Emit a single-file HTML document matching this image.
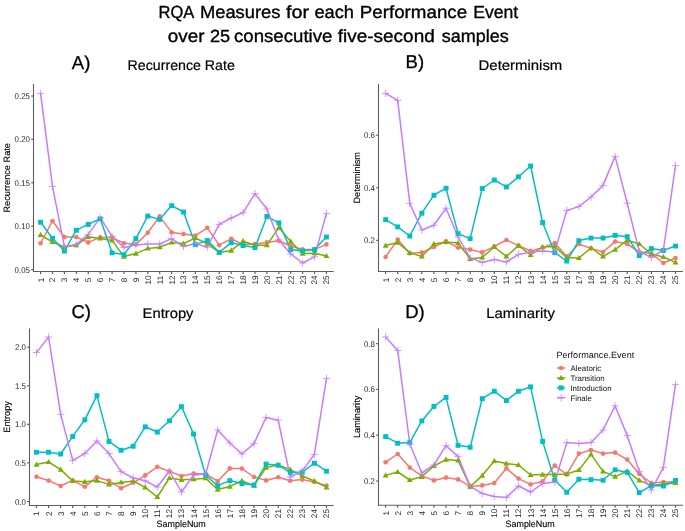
<!DOCTYPE html>
<html><head><meta charset="utf-8"><style>
html,body{margin:0;padding:0;background:#fff;}
svg{display:block;will-change:transform;text-rendering:geometricPrecision;font-family:"Liberation Sans",sans-serif;}
.tk{font-size:8.2px;fill:#2a2a2a;}
.tky{font-size:8.4px;fill:#2a2a2a;}
.at{font-size:9.2px;fill:#000;stroke:#000;stroke-width:0.12px;}
.lt{font-size:9.1px;fill:#111;}
.ll{font-size:7.9px;fill:#111;}
.t1{font-size:17.6px;fill:#000;stroke:#000;stroke-width:0.35px;}
.t2{font-size:17.6px;fill:#111;}
.pl{font-size:18.5px;fill:#000;stroke:#000;stroke-width:0.3px;}
.st{font-size:14px;fill:#000;stroke:#000;stroke-width:0.2px;}
</style></head><body>
<svg width="685" height="531" viewBox="0 0 685 531">
<rect width="685" height="531" fill="#fff"/>

<text x="158.50" y="17.8" class="t1" textLength="35.80" lengthAdjust="spacingAndGlyphs">RQA</text>
<text x="199.90" y="17.8" class="t1" textLength="80.60" lengthAdjust="spacingAndGlyphs">Measures</text>
<text x="285.90" y="17.8" class="t1" textLength="23.10" lengthAdjust="spacingAndGlyphs">for</text>
<text x="314.40" y="17.8" class="t1" textLength="39.60" lengthAdjust="spacingAndGlyphs">each</text>
<text x="359.80" y="17.8" class="t1" textLength="107.30" lengthAdjust="spacingAndGlyphs">Performance</text>
<text x="473.20" y="17.8" class="t1" textLength="45.00" lengthAdjust="spacingAndGlyphs">Event</text>
<text x="167.80" y="42.1" class="t1" textLength="36.70" lengthAdjust="spacingAndGlyphs">over</text>
<text x="209.90" y="42.1" class="t1" textLength="20.20" lengthAdjust="spacingAndGlyphs">25</text>
<text x="234.00" y="42.1" class="t1" textLength="98.40" lengthAdjust="spacingAndGlyphs">consecutive</text>
<text x="337.70" y="42.1" class="t1" textLength="97.10" lengthAdjust="spacingAndGlyphs">five-second</text>
<text x="441.80" y="42.1" class="t1" textLength="66.90" lengthAdjust="spacingAndGlyphs">samples</text>
<text x="71.8" y="69.2" class="pl">A)</text>
<text x="405.6" y="68.2" class="pl">B)</text>
<text x="71.4" y="318" class="pl">C)</text>
<text x="405.2" y="318" class="pl">D)</text>
<text x="127.6" y="70" class="st" textLength="107.2" lengthAdjust="spacingAndGlyphs">Recurrence Rate</text>
<text x="478.6" y="69.6" class="st" textLength="83.7" lengthAdjust="spacingAndGlyphs">Determinism</text>
<text x="142.6" y="318" class="st" textLength="50.9" lengthAdjust="spacingAndGlyphs">Entropy</text>
<text x="486.2" y="317.6" class="st" textLength="68.7" lengthAdjust="spacingAndGlyphs">Laminarity</text>

<path d="M33.5 84V272.1M32.9 271.5H333.6" stroke="#5e5e5e" stroke-width="1.1" fill="none"/>
<path d="M31.2 269.6H33.5" stroke="#5e5e5e" stroke-width="1.2"/>
<text transform="translate(29.9 272.6) scale(0.94 1)" text-anchor="end" class="tky">0.05</text>
<path d="M31.2 226.2H33.5" stroke="#5e5e5e" stroke-width="1.2"/>
<text transform="translate(29.9 229.2) scale(0.94 1)" text-anchor="end" class="tky">0.10</text>
<path d="M31.2 182.8H33.5" stroke="#5e5e5e" stroke-width="1.2"/>
<text transform="translate(29.9 185.8) scale(0.94 1)" text-anchor="end" class="tky">0.15</text>
<path d="M31.2 139.4H33.5" stroke="#5e5e5e" stroke-width="1.2"/>
<text transform="translate(29.9 142.4) scale(0.94 1)" text-anchor="end" class="tky">0.20</text>
<path d="M31.2 96H33.5" stroke="#5e5e5e" stroke-width="1.2"/>
<text transform="translate(29.9 99) scale(0.94 1)" text-anchor="end" class="tky">0.25</text>
<path d="M40.6 271.5V273.9" stroke="#5e5e5e" stroke-width="1.2"/>
<text transform="translate(43.5 280) rotate(-90)" text-anchor="middle" class="tk">1</text>
<path d="M52.5 271.5V273.9" stroke="#5e5e5e" stroke-width="1.2"/>
<text transform="translate(55.4 280) rotate(-90)" text-anchor="middle" class="tk">2</text>
<path d="M64.4 271.5V273.9" stroke="#5e5e5e" stroke-width="1.2"/>
<text transform="translate(67.3 280) rotate(-90)" text-anchor="middle" class="tk">3</text>
<path d="M76.3 271.5V273.9" stroke="#5e5e5e" stroke-width="1.2"/>
<text transform="translate(79.2 280) rotate(-90)" text-anchor="middle" class="tk">4</text>
<path d="M88.2 271.5V273.9" stroke="#5e5e5e" stroke-width="1.2"/>
<text transform="translate(91.1 280) rotate(-90)" text-anchor="middle" class="tk">5</text>
<path d="M100.2 271.5V273.9" stroke="#5e5e5e" stroke-width="1.2"/>
<text transform="translate(103.1 280) rotate(-90)" text-anchor="middle" class="tk">6</text>
<path d="M112.1 271.5V273.9" stroke="#5e5e5e" stroke-width="1.2"/>
<text transform="translate(115 280) rotate(-90)" text-anchor="middle" class="tk">7</text>
<path d="M124 271.5V273.9" stroke="#5e5e5e" stroke-width="1.2"/>
<text transform="translate(126.9 280) rotate(-90)" text-anchor="middle" class="tk">8</text>
<path d="M135.9 271.5V273.9" stroke="#5e5e5e" stroke-width="1.2"/>
<text transform="translate(138.8 280) rotate(-90)" text-anchor="middle" class="tk">9</text>
<path d="M147.8 271.5V273.9" stroke="#5e5e5e" stroke-width="1.2"/>
<text transform="translate(150.7 280) rotate(-90)" text-anchor="middle" class="tk">10</text>
<path d="M159.7 271.5V273.9" stroke="#5e5e5e" stroke-width="1.2"/>
<text transform="translate(162.6 280) rotate(-90)" text-anchor="middle" class="tk">11</text>
<path d="M171.6 271.5V273.9" stroke="#5e5e5e" stroke-width="1.2"/>
<text transform="translate(174.5 280) rotate(-90)" text-anchor="middle" class="tk">12</text>
<path d="M183.5 271.5V273.9" stroke="#5e5e5e" stroke-width="1.2"/>
<text transform="translate(186.4 280) rotate(-90)" text-anchor="middle" class="tk">13</text>
<path d="M195.4 271.5V273.9" stroke="#5e5e5e" stroke-width="1.2"/>
<text transform="translate(198.3 280) rotate(-90)" text-anchor="middle" class="tk">14</text>
<path d="M207.3 271.5V273.9" stroke="#5e5e5e" stroke-width="1.2"/>
<text transform="translate(210.2 280) rotate(-90)" text-anchor="middle" class="tk">15</text>
<path d="M219.2 271.5V273.9" stroke="#5e5e5e" stroke-width="1.2"/>
<text transform="translate(222.2 280) rotate(-90)" text-anchor="middle" class="tk">16</text>
<path d="M231.2 271.5V273.9" stroke="#5e5e5e" stroke-width="1.2"/>
<text transform="translate(234.1 280) rotate(-90)" text-anchor="middle" class="tk">17</text>
<path d="M243.1 271.5V273.9" stroke="#5e5e5e" stroke-width="1.2"/>
<text transform="translate(246 280) rotate(-90)" text-anchor="middle" class="tk">18</text>
<path d="M255 271.5V273.9" stroke="#5e5e5e" stroke-width="1.2"/>
<text transform="translate(257.9 280) rotate(-90)" text-anchor="middle" class="tk">19</text>
<path d="M266.9 271.5V273.9" stroke="#5e5e5e" stroke-width="1.2"/>
<text transform="translate(269.8 280) rotate(-90)" text-anchor="middle" class="tk">20</text>
<path d="M278.8 271.5V273.9" stroke="#5e5e5e" stroke-width="1.2"/>
<text transform="translate(281.7 280) rotate(-90)" text-anchor="middle" class="tk">21</text>
<path d="M290.7 271.5V273.9" stroke="#5e5e5e" stroke-width="1.2"/>
<text transform="translate(293.6 280) rotate(-90)" text-anchor="middle" class="tk">22</text>
<path d="M302.6 271.5V273.9" stroke="#5e5e5e" stroke-width="1.2"/>
<text transform="translate(305.5 280) rotate(-90)" text-anchor="middle" class="tk">23</text>
<path d="M314.5 271.5V273.9" stroke="#5e5e5e" stroke-width="1.2"/>
<text transform="translate(317.4 280) rotate(-90)" text-anchor="middle" class="tk">24</text>
<path d="M326.4 271.5V273.9" stroke="#5e5e5e" stroke-width="1.2"/>
<text transform="translate(329.3 280) rotate(-90)" text-anchor="middle" class="tk">25</text>
<text transform="translate(10.4 177.8) rotate(-90)" text-anchor="middle" class="at">Recurrence Rate</text>
<polyline points="40.6,243.2 52.5,221 64.4,237 76.3,237 88.2,242.4 100.2,237.4 112.1,237.6 124,243.2 135.9,244.4 147.8,232.8 159.7,216.4 171.6,232.4 183.5,234 195.4,235.6 207.3,227.8 219.2,245.2 231.2,238.8 243.1,244.4 255,244 266.9,242.4 278.8,240.8 290.7,246 302.6,249.4 314.5,249.6 326.4,244.4" fill="none" stroke="#F8766D" stroke-width="1.5" stroke-linejoin="round"/>
<polyline points="40.6,234.8 52.5,242 64.4,247 76.3,245.2 88.2,236.8 100.2,238.4 112.1,240.4 124,256.6 135.9,253.6 147.8,248.4 159.7,247.2 171.6,242.4 183.5,243.6 195.4,238 207.3,243.6 219.2,252.4 231.2,250.6 243.1,241.2 255,245.2 266.9,245.2 278.8,227.6 290.7,241.6 302.6,253.6 314.5,253.2 326.4,256" fill="none" stroke="#7CAE00" stroke-width="1.5" stroke-linejoin="round"/>
<polyline points="40.6,222.2 52.5,238.2 64.4,251 76.3,230.2 88.2,224.4 100.2,218.8 112.1,252.8 124,254.6 135.9,238.6 147.8,216 159.7,219.4 171.6,205.6 183.5,212 195.4,244.6 207.3,240.4 219.2,252.4 231.2,242.6 243.1,245.6 255,247.6 266.9,216.4 278.8,222.8 290.7,249.6 302.6,251 314.5,249.6 326.4,237" fill="none" stroke="#00BFC4" stroke-width="1.5" stroke-linejoin="round"/>
<polyline points="40.6,93.4 52.5,186.4 64.4,246.6 76.3,244.4 88.2,234.4 100.2,217.6 112.1,236.4 124,247.6 135.9,245 147.8,244 159.7,244 171.6,238.6 183.5,246.6 195.4,243.6 207.3,247.2 219.2,224.4 231.2,218 243.1,212.6 255,193.6 266.9,209 278.8,240 290.7,254 302.6,263 314.5,256.8 326.4,213.6" fill="none" stroke="#C77CFF" stroke-width="1.5" stroke-linejoin="round"/>
<circle cx="40.6" cy="243.2" r="2.3" fill="#F8766D"/>
<circle cx="52.5" cy="221" r="2.3" fill="#F8766D"/>
<circle cx="64.4" cy="237" r="2.3" fill="#F8766D"/>
<circle cx="76.3" cy="237" r="2.3" fill="#F8766D"/>
<circle cx="88.2" cy="242.4" r="2.3" fill="#F8766D"/>
<circle cx="100.2" cy="237.4" r="2.3" fill="#F8766D"/>
<circle cx="112.1" cy="237.6" r="2.3" fill="#F8766D"/>
<circle cx="124" cy="243.2" r="2.3" fill="#F8766D"/>
<circle cx="135.9" cy="244.4" r="2.3" fill="#F8766D"/>
<circle cx="147.8" cy="232.8" r="2.3" fill="#F8766D"/>
<circle cx="159.7" cy="216.4" r="2.3" fill="#F8766D"/>
<circle cx="171.6" cy="232.4" r="2.3" fill="#F8766D"/>
<circle cx="183.5" cy="234" r="2.3" fill="#F8766D"/>
<circle cx="195.4" cy="235.6" r="2.3" fill="#F8766D"/>
<circle cx="207.3" cy="227.8" r="2.3" fill="#F8766D"/>
<circle cx="219.2" cy="245.2" r="2.3" fill="#F8766D"/>
<circle cx="231.2" cy="238.8" r="2.3" fill="#F8766D"/>
<circle cx="243.1" cy="244.4" r="2.3" fill="#F8766D"/>
<circle cx="255" cy="244" r="2.3" fill="#F8766D"/>
<circle cx="266.9" cy="242.4" r="2.3" fill="#F8766D"/>
<circle cx="278.8" cy="240.8" r="2.3" fill="#F8766D"/>
<circle cx="290.7" cy="246" r="2.3" fill="#F8766D"/>
<circle cx="302.6" cy="249.4" r="2.3" fill="#F8766D"/>
<circle cx="314.5" cy="249.6" r="2.3" fill="#F8766D"/>
<circle cx="326.4" cy="244.4" r="2.3" fill="#F8766D"/>
<path d="M40.6 231.7L43.6 236.9L37.6 236.9Z" fill="#7CAE00"/>
<path d="M52.5 238.9L55.5 244.1L49.5 244.1Z" fill="#7CAE00"/>
<path d="M64.4 243.9L67.4 249.1L61.4 249.1Z" fill="#7CAE00"/>
<path d="M76.3 242.1L79.3 247.3L73.3 247.3Z" fill="#7CAE00"/>
<path d="M88.2 233.7L91.2 238.9L85.2 238.9Z" fill="#7CAE00"/>
<path d="M100.2 235.3L103.2 240.5L97.2 240.5Z" fill="#7CAE00"/>
<path d="M112.1 237.3L115.1 242.5L109.1 242.5Z" fill="#7CAE00"/>
<path d="M124 253.5L127 258.7L121 258.7Z" fill="#7CAE00"/>
<path d="M135.9 250.5L138.9 255.7L132.9 255.7Z" fill="#7CAE00"/>
<path d="M147.8 245.3L150.8 250.5L144.8 250.5Z" fill="#7CAE00"/>
<path d="M159.7 244.1L162.7 249.3L156.7 249.3Z" fill="#7CAE00"/>
<path d="M171.6 239.3L174.6 244.5L168.6 244.5Z" fill="#7CAE00"/>
<path d="M183.5 240.5L186.5 245.7L180.5 245.7Z" fill="#7CAE00"/>
<path d="M195.4 234.9L198.4 240.1L192.4 240.1Z" fill="#7CAE00"/>
<path d="M207.3 240.5L210.3 245.7L204.3 245.7Z" fill="#7CAE00"/>
<path d="M219.2 249.3L222.2 254.5L216.2 254.5Z" fill="#7CAE00"/>
<path d="M231.2 247.5L234.2 252.7L228.2 252.7Z" fill="#7CAE00"/>
<path d="M243.1 238.1L246.1 243.3L240.1 243.3Z" fill="#7CAE00"/>
<path d="M255 242.1L258 247.3L252 247.3Z" fill="#7CAE00"/>
<path d="M266.9 242.1L269.9 247.3L263.9 247.3Z" fill="#7CAE00"/>
<path d="M278.8 224.5L281.8 229.7L275.8 229.7Z" fill="#7CAE00"/>
<path d="M290.7 238.5L293.7 243.7L287.7 243.7Z" fill="#7CAE00"/>
<path d="M302.6 250.5L305.6 255.7L299.6 255.7Z" fill="#7CAE00"/>
<path d="M314.5 250.1L317.5 255.3L311.5 255.3Z" fill="#7CAE00"/>
<path d="M326.4 252.9L329.4 258.1L323.4 258.1Z" fill="#7CAE00"/>
<rect x="38.1" y="219.8" width="4.9" height="4.9" fill="#00BFC4"/>
<rect x="50.1" y="235.8" width="4.9" height="4.9" fill="#00BFC4"/>
<rect x="62" y="248.6" width="4.9" height="4.9" fill="#00BFC4"/>
<rect x="73.9" y="227.8" width="4.9" height="4.9" fill="#00BFC4"/>
<rect x="85.8" y="222" width="4.9" height="4.9" fill="#00BFC4"/>
<rect x="97.7" y="216.4" width="4.9" height="4.9" fill="#00BFC4"/>
<rect x="109.6" y="250.4" width="4.9" height="4.9" fill="#00BFC4"/>
<rect x="121.5" y="252.2" width="4.9" height="4.9" fill="#00BFC4"/>
<rect x="133.4" y="236.2" width="4.9" height="4.9" fill="#00BFC4"/>
<rect x="145.3" y="213.6" width="4.9" height="4.9" fill="#00BFC4"/>
<rect x="157.2" y="217" width="4.9" height="4.9" fill="#00BFC4"/>
<rect x="169.2" y="203.2" width="4.9" height="4.9" fill="#00BFC4"/>
<rect x="181.1" y="209.6" width="4.9" height="4.9" fill="#00BFC4"/>
<rect x="193" y="242.2" width="4.9" height="4.9" fill="#00BFC4"/>
<rect x="204.9" y="238" width="4.9" height="4.9" fill="#00BFC4"/>
<rect x="216.8" y="250" width="4.9" height="4.9" fill="#00BFC4"/>
<rect x="228.7" y="240.2" width="4.9" height="4.9" fill="#00BFC4"/>
<rect x="240.6" y="243.2" width="4.9" height="4.9" fill="#00BFC4"/>
<rect x="252.5" y="245.2" width="4.9" height="4.9" fill="#00BFC4"/>
<rect x="264.4" y="214" width="4.9" height="4.9" fill="#00BFC4"/>
<rect x="276.4" y="220.4" width="4.9" height="4.9" fill="#00BFC4"/>
<rect x="288.3" y="247.2" width="4.9" height="4.9" fill="#00BFC4"/>
<rect x="300.2" y="248.6" width="4.9" height="4.9" fill="#00BFC4"/>
<rect x="312.1" y="247.2" width="4.9" height="4.9" fill="#00BFC4"/>
<rect x="324" y="234.6" width="4.9" height="4.9" fill="#00BFC4"/>
<path d="M37 93.4H44.2M40.6 89.8V97" stroke="#C77CFF" stroke-width="0.85" fill="none" opacity="0.9"/>
<path d="M48.9 186.4H56.1M52.5 182.8V190" stroke="#C77CFF" stroke-width="0.85" fill="none" opacity="0.9"/>
<path d="M60.8 246.6H68M64.4 243V250.2" stroke="#C77CFF" stroke-width="0.85" fill="none" opacity="0.9"/>
<path d="M72.7 244.4H79.9M76.3 240.8V248" stroke="#C77CFF" stroke-width="0.85" fill="none" opacity="0.9"/>
<path d="M84.6 234.4H91.8M88.2 230.8V238" stroke="#C77CFF" stroke-width="0.85" fill="none" opacity="0.9"/>
<path d="M96.6 217.6H103.8M100.2 214V221.2" stroke="#C77CFF" stroke-width="0.85" fill="none" opacity="0.9"/>
<path d="M108.5 236.4H115.7M112.1 232.8V240" stroke="#C77CFF" stroke-width="0.85" fill="none" opacity="0.9"/>
<path d="M120.4 247.6H127.6M124 244V251.2" stroke="#C77CFF" stroke-width="0.85" fill="none" opacity="0.9"/>
<path d="M132.3 245H139.5M135.9 241.4V248.6" stroke="#C77CFF" stroke-width="0.85" fill="none" opacity="0.9"/>
<path d="M144.2 244H151.4M147.8 240.4V247.6" stroke="#C77CFF" stroke-width="0.85" fill="none" opacity="0.9"/>
<path d="M156.1 244H163.3M159.7 240.4V247.6" stroke="#C77CFF" stroke-width="0.85" fill="none" opacity="0.9"/>
<path d="M168 238.6H175.2M171.6 235V242.2" stroke="#C77CFF" stroke-width="0.85" fill="none" opacity="0.9"/>
<path d="M179.9 246.6H187.1M183.5 243V250.2" stroke="#C77CFF" stroke-width="0.85" fill="none" opacity="0.9"/>
<path d="M191.8 243.6H199M195.4 240V247.2" stroke="#C77CFF" stroke-width="0.85" fill="none" opacity="0.9"/>
<path d="M203.7 247.2H210.9M207.3 243.6V250.8" stroke="#C77CFF" stroke-width="0.85" fill="none" opacity="0.9"/>
<path d="M215.7 224.4H222.8M219.2 220.8V228" stroke="#C77CFF" stroke-width="0.85" fill="none" opacity="0.9"/>
<path d="M227.6 218H234.8M231.2 214.4V221.6" stroke="#C77CFF" stroke-width="0.85" fill="none" opacity="0.9"/>
<path d="M239.5 212.6H246.7M243.1 209V216.2" stroke="#C77CFF" stroke-width="0.85" fill="none" opacity="0.9"/>
<path d="M251.4 193.6H258.6M255 190V197.2" stroke="#C77CFF" stroke-width="0.85" fill="none" opacity="0.9"/>
<path d="M263.3 209H270.5M266.9 205.4V212.6" stroke="#C77CFF" stroke-width="0.85" fill="none" opacity="0.9"/>
<path d="M275.2 240H282.4M278.8 236.4V243.6" stroke="#C77CFF" stroke-width="0.85" fill="none" opacity="0.9"/>
<path d="M287.1 254H294.3M290.7 250.4V257.6" stroke="#C77CFF" stroke-width="0.85" fill="none" opacity="0.9"/>
<path d="M299 263H306.2M302.6 259.4V266.6" stroke="#C77CFF" stroke-width="0.85" fill="none" opacity="0.9"/>
<path d="M310.9 256.8H318.1M314.5 253.2V260.4" stroke="#C77CFF" stroke-width="0.85" fill="none" opacity="0.9"/>
<path d="M322.8 213.6H330M326.4 210V217.2" stroke="#C77CFF" stroke-width="0.85" fill="none" opacity="0.9"/>
<path d="M378.5 84V272.1M377.9 271.5H683" stroke="#5e5e5e" stroke-width="1.1" fill="none"/>
<path d="M376.2 240.4H378.5" stroke="#5e5e5e" stroke-width="1.2"/>
<text transform="translate(374.9 243.4) scale(0.94 1)" text-anchor="end" class="tky">0.2</text>
<path d="M376.2 187.8H378.5" stroke="#5e5e5e" stroke-width="1.2"/>
<text transform="translate(374.9 190.8) scale(0.94 1)" text-anchor="end" class="tky">0.4</text>
<path d="M376.2 135.2H378.5" stroke="#5e5e5e" stroke-width="1.2"/>
<text transform="translate(374.9 138.2) scale(0.94 1)" text-anchor="end" class="tky">0.6</text>
<path d="M385.6 271.5V273.9" stroke="#5e5e5e" stroke-width="1.2"/>
<text transform="translate(388.5 280) rotate(-90)" text-anchor="middle" class="tk">1</text>
<path d="M397.7 271.5V273.9" stroke="#5e5e5e" stroke-width="1.2"/>
<text transform="translate(400.6 280) rotate(-90)" text-anchor="middle" class="tk">2</text>
<path d="M409.8 271.5V273.9" stroke="#5e5e5e" stroke-width="1.2"/>
<text transform="translate(412.7 280) rotate(-90)" text-anchor="middle" class="tk">3</text>
<path d="M421.8 271.5V273.9" stroke="#5e5e5e" stroke-width="1.2"/>
<text transform="translate(424.7 280) rotate(-90)" text-anchor="middle" class="tk">4</text>
<path d="M433.9 271.5V273.9" stroke="#5e5e5e" stroke-width="1.2"/>
<text transform="translate(436.8 280) rotate(-90)" text-anchor="middle" class="tk">5</text>
<path d="M446 271.5V273.9" stroke="#5e5e5e" stroke-width="1.2"/>
<text transform="translate(448.9 280) rotate(-90)" text-anchor="middle" class="tk">6</text>
<path d="M458.1 271.5V273.9" stroke="#5e5e5e" stroke-width="1.2"/>
<text transform="translate(461 280) rotate(-90)" text-anchor="middle" class="tk">7</text>
<path d="M470.2 271.5V273.9" stroke="#5e5e5e" stroke-width="1.2"/>
<text transform="translate(473.1 280) rotate(-90)" text-anchor="middle" class="tk">8</text>
<path d="M482.2 271.5V273.9" stroke="#5e5e5e" stroke-width="1.2"/>
<text transform="translate(485.1 280) rotate(-90)" text-anchor="middle" class="tk">9</text>
<path d="M494.3 271.5V273.9" stroke="#5e5e5e" stroke-width="1.2"/>
<text transform="translate(497.2 280) rotate(-90)" text-anchor="middle" class="tk">10</text>
<path d="M506.4 271.5V273.9" stroke="#5e5e5e" stroke-width="1.2"/>
<text transform="translate(509.3 280) rotate(-90)" text-anchor="middle" class="tk">11</text>
<path d="M518.5 271.5V273.9" stroke="#5e5e5e" stroke-width="1.2"/>
<text transform="translate(521.4 280) rotate(-90)" text-anchor="middle" class="tk">12</text>
<path d="M530.6 271.5V273.9" stroke="#5e5e5e" stroke-width="1.2"/>
<text transform="translate(533.5 280) rotate(-90)" text-anchor="middle" class="tk">13</text>
<path d="M542.6 271.5V273.9" stroke="#5e5e5e" stroke-width="1.2"/>
<text transform="translate(545.5 280) rotate(-90)" text-anchor="middle" class="tk">14</text>
<path d="M554.7 271.5V273.9" stroke="#5e5e5e" stroke-width="1.2"/>
<text transform="translate(557.6 280) rotate(-90)" text-anchor="middle" class="tk">15</text>
<path d="M566.8 271.5V273.9" stroke="#5e5e5e" stroke-width="1.2"/>
<text transform="translate(569.7 280) rotate(-90)" text-anchor="middle" class="tk">16</text>
<path d="M578.9 271.5V273.9" stroke="#5e5e5e" stroke-width="1.2"/>
<text transform="translate(581.8 280) rotate(-90)" text-anchor="middle" class="tk">17</text>
<path d="M591 271.5V273.9" stroke="#5e5e5e" stroke-width="1.2"/>
<text transform="translate(593.9 280) rotate(-90)" text-anchor="middle" class="tk">18</text>
<path d="M603 271.5V273.9" stroke="#5e5e5e" stroke-width="1.2"/>
<text transform="translate(605.9 280) rotate(-90)" text-anchor="middle" class="tk">19</text>
<path d="M615.1 271.5V273.9" stroke="#5e5e5e" stroke-width="1.2"/>
<text transform="translate(618 280) rotate(-90)" text-anchor="middle" class="tk">20</text>
<path d="M627.2 271.5V273.9" stroke="#5e5e5e" stroke-width="1.2"/>
<text transform="translate(630.1 280) rotate(-90)" text-anchor="middle" class="tk">21</text>
<path d="M639.3 271.5V273.9" stroke="#5e5e5e" stroke-width="1.2"/>
<text transform="translate(642.2 280) rotate(-90)" text-anchor="middle" class="tk">22</text>
<path d="M651.4 271.5V273.9" stroke="#5e5e5e" stroke-width="1.2"/>
<text transform="translate(654.3 280) rotate(-90)" text-anchor="middle" class="tk">23</text>
<path d="M663.4 271.5V273.9" stroke="#5e5e5e" stroke-width="1.2"/>
<text transform="translate(666.3 280) rotate(-90)" text-anchor="middle" class="tk">24</text>
<path d="M675.5 271.5V273.9" stroke="#5e5e5e" stroke-width="1.2"/>
<text transform="translate(678.4 280) rotate(-90)" text-anchor="middle" class="tk">25</text>
<text transform="translate(359.7 177.8) rotate(-90)" text-anchor="middle" class="at">Determinism</text>
<polyline points="385.6,257 397.7,239.6 409.8,253.2 421.8,252.6 433.9,247 446,241.4 458.1,247.6 470.2,249.6 482.2,252.4 494.3,246.4 506.4,240 518.5,245.6 530.6,251 542.6,247.6 554.7,243 566.8,256.4 578.9,244 591,248.4 603,252 615.1,241.6 627.2,244 639.3,252 651.4,253.6 663.4,263 675.5,258" fill="none" stroke="#F8766D" stroke-width="1.5" stroke-linejoin="round"/>
<polyline points="385.6,245.6 397.7,242.6 409.8,252.8 421.8,256.4 433.9,244 446,242 458.1,243 470.2,259 482.2,257.4 494.3,247 506.4,256.4 518.5,245.6 530.6,255 542.6,247 554.7,246.4 566.8,257.6 578.9,258 591,248 603,256.4 615.1,249.6 627.2,240.2 639.3,244 651.4,254 663.4,257 675.5,262.4" fill="none" stroke="#7CAE00" stroke-width="1.5" stroke-linejoin="round"/>
<polyline points="385.6,219.6 397.7,226.8 409.8,236 421.8,213.2 433.9,195.2 446,188.2 458.1,233.6 470.2,238.6 482.2,188.5 494.3,180 506.4,186.9 518.5,176.8 530.6,166 542.6,222.5 554.7,252.6 566.8,261 578.9,240.6 591,238 603,238 615.1,235.4 627.2,236.6 639.3,255.6 651.4,248.6 663.4,250.4 675.5,246" fill="none" stroke="#00BFC4" stroke-width="1.5" stroke-linejoin="round"/>
<polyline points="385.6,93.4 397.7,100.4 409.8,203.6 421.8,230 433.9,225.2 446,208.2 458.1,237 470.2,258 482.2,262.4 494.3,259.6 506.4,262 518.5,254.4 530.6,252 542.6,251 554.7,252 566.8,210.4 578.9,206.6 591,197 603,185.4 615.1,156.4 627.2,203.2 639.3,251.6 651.4,257.4 663.4,250 675.5,165.6" fill="none" stroke="#C77CFF" stroke-width="1.5" stroke-linejoin="round"/>
<circle cx="385.6" cy="257" r="2.3" fill="#F8766D"/>
<circle cx="397.7" cy="239.6" r="2.3" fill="#F8766D"/>
<circle cx="409.8" cy="253.2" r="2.3" fill="#F8766D"/>
<circle cx="421.8" cy="252.6" r="2.3" fill="#F8766D"/>
<circle cx="433.9" cy="247" r="2.3" fill="#F8766D"/>
<circle cx="446" cy="241.4" r="2.3" fill="#F8766D"/>
<circle cx="458.1" cy="247.6" r="2.3" fill="#F8766D"/>
<circle cx="470.2" cy="249.6" r="2.3" fill="#F8766D"/>
<circle cx="482.2" cy="252.4" r="2.3" fill="#F8766D"/>
<circle cx="494.3" cy="246.4" r="2.3" fill="#F8766D"/>
<circle cx="506.4" cy="240" r="2.3" fill="#F8766D"/>
<circle cx="518.5" cy="245.6" r="2.3" fill="#F8766D"/>
<circle cx="530.6" cy="251" r="2.3" fill="#F8766D"/>
<circle cx="542.6" cy="247.6" r="2.3" fill="#F8766D"/>
<circle cx="554.7" cy="243" r="2.3" fill="#F8766D"/>
<circle cx="566.8" cy="256.4" r="2.3" fill="#F8766D"/>
<circle cx="578.9" cy="244" r="2.3" fill="#F8766D"/>
<circle cx="591" cy="248.4" r="2.3" fill="#F8766D"/>
<circle cx="603" cy="252" r="2.3" fill="#F8766D"/>
<circle cx="615.1" cy="241.6" r="2.3" fill="#F8766D"/>
<circle cx="627.2" cy="244" r="2.3" fill="#F8766D"/>
<circle cx="639.3" cy="252" r="2.3" fill="#F8766D"/>
<circle cx="651.4" cy="253.6" r="2.3" fill="#F8766D"/>
<circle cx="663.4" cy="263" r="2.3" fill="#F8766D"/>
<circle cx="675.5" cy="258" r="2.3" fill="#F8766D"/>
<path d="M385.6 242.5L388.6 247.7L382.6 247.7Z" fill="#7CAE00"/>
<path d="M397.7 239.5L400.7 244.7L394.7 244.7Z" fill="#7CAE00"/>
<path d="M409.8 249.7L412.8 254.9L406.8 254.9Z" fill="#7CAE00"/>
<path d="M421.8 253.3L424.8 258.5L418.8 258.5Z" fill="#7CAE00"/>
<path d="M433.9 240.9L436.9 246.1L430.9 246.1Z" fill="#7CAE00"/>
<path d="M446 238.9L449 244.1L443 244.1Z" fill="#7CAE00"/>
<path d="M458.1 239.9L461.1 245.1L455.1 245.1Z" fill="#7CAE00"/>
<path d="M470.2 255.9L473.2 261.1L467.2 261.1Z" fill="#7CAE00"/>
<path d="M482.2 254.3L485.2 259.5L479.2 259.5Z" fill="#7CAE00"/>
<path d="M494.3 243.9L497.3 249.1L491.3 249.1Z" fill="#7CAE00"/>
<path d="M506.4 253.3L509.4 258.5L503.4 258.5Z" fill="#7CAE00"/>
<path d="M518.5 242.5L521.5 247.7L515.5 247.7Z" fill="#7CAE00"/>
<path d="M530.6 251.9L533.6 257.1L527.6 257.1Z" fill="#7CAE00"/>
<path d="M542.6 243.9L545.6 249.1L539.6 249.1Z" fill="#7CAE00"/>
<path d="M554.7 243.3L557.7 248.5L551.7 248.5Z" fill="#7CAE00"/>
<path d="M566.8 254.5L569.8 259.7L563.8 259.7Z" fill="#7CAE00"/>
<path d="M578.9 254.9L581.9 260.1L575.9 260.1Z" fill="#7CAE00"/>
<path d="M591 244.9L594 250.1L588 250.1Z" fill="#7CAE00"/>
<path d="M603 253.3L606 258.5L600 258.5Z" fill="#7CAE00"/>
<path d="M615.1 246.5L618.1 251.7L612.1 251.7Z" fill="#7CAE00"/>
<path d="M627.2 237.1L630.2 242.3L624.2 242.3Z" fill="#7CAE00"/>
<path d="M639.3 240.9L642.3 246.1L636.3 246.1Z" fill="#7CAE00"/>
<path d="M651.4 250.9L654.4 256.1L648.4 256.1Z" fill="#7CAE00"/>
<path d="M663.4 253.9L666.4 259.1L660.4 259.1Z" fill="#7CAE00"/>
<path d="M675.5 259.3L678.5 264.5L672.5 264.5Z" fill="#7CAE00"/>
<rect x="383.2" y="217.2" width="4.9" height="4.9" fill="#00BFC4"/>
<rect x="395.2" y="224.4" width="4.9" height="4.9" fill="#00BFC4"/>
<rect x="407.3" y="233.6" width="4.9" height="4.9" fill="#00BFC4"/>
<rect x="419.4" y="210.8" width="4.9" height="4.9" fill="#00BFC4"/>
<rect x="431.5" y="192.8" width="4.9" height="4.9" fill="#00BFC4"/>
<rect x="443.6" y="185.8" width="4.9" height="4.9" fill="#00BFC4"/>
<rect x="455.6" y="231.2" width="4.9" height="4.9" fill="#00BFC4"/>
<rect x="467.7" y="236.2" width="4.9" height="4.9" fill="#00BFC4"/>
<rect x="479.8" y="186.1" width="4.9" height="4.9" fill="#00BFC4"/>
<rect x="491.9" y="177.6" width="4.9" height="4.9" fill="#00BFC4"/>
<rect x="504" y="184.5" width="4.9" height="4.9" fill="#00BFC4"/>
<rect x="516" y="174.4" width="4.9" height="4.9" fill="#00BFC4"/>
<rect x="528.1" y="163.6" width="4.9" height="4.9" fill="#00BFC4"/>
<rect x="540.2" y="220.1" width="4.9" height="4.9" fill="#00BFC4"/>
<rect x="552.3" y="250.2" width="4.9" height="4.9" fill="#00BFC4"/>
<rect x="564.3" y="258.6" width="4.9" height="4.9" fill="#00BFC4"/>
<rect x="576.4" y="238.2" width="4.9" height="4.9" fill="#00BFC4"/>
<rect x="588.5" y="235.6" width="4.9" height="4.9" fill="#00BFC4"/>
<rect x="600.6" y="235.6" width="4.9" height="4.9" fill="#00BFC4"/>
<rect x="612.7" y="233" width="4.9" height="4.9" fill="#00BFC4"/>
<rect x="624.8" y="234.2" width="4.9" height="4.9" fill="#00BFC4"/>
<rect x="636.8" y="253.2" width="4.9" height="4.9" fill="#00BFC4"/>
<rect x="648.9" y="246.2" width="4.9" height="4.9" fill="#00BFC4"/>
<rect x="661" y="248" width="4.9" height="4.9" fill="#00BFC4"/>
<rect x="673.1" y="243.6" width="4.9" height="4.9" fill="#00BFC4"/>
<path d="M382 93.4H389.2M385.6 89.8V97" stroke="#C77CFF" stroke-width="0.85" fill="none" opacity="0.9"/>
<path d="M394.1 100.4H401.3M397.7 96.8V104" stroke="#C77CFF" stroke-width="0.85" fill="none" opacity="0.9"/>
<path d="M406.2 203.6H413.4M409.8 200V207.2" stroke="#C77CFF" stroke-width="0.85" fill="none" opacity="0.9"/>
<path d="M418.2 230H425.4M421.8 226.4V233.6" stroke="#C77CFF" stroke-width="0.85" fill="none" opacity="0.9"/>
<path d="M430.3 225.2H437.5M433.9 221.6V228.8" stroke="#C77CFF" stroke-width="0.85" fill="none" opacity="0.9"/>
<path d="M442.4 208.2H449.6M446 204.6V211.8" stroke="#C77CFF" stroke-width="0.85" fill="none" opacity="0.9"/>
<path d="M454.5 237H461.7M458.1 233.4V240.6" stroke="#C77CFF" stroke-width="0.85" fill="none" opacity="0.9"/>
<path d="M466.6 258H473.8M470.2 254.4V261.6" stroke="#C77CFF" stroke-width="0.85" fill="none" opacity="0.9"/>
<path d="M478.6 262.4H485.8M482.2 258.8V266" stroke="#C77CFF" stroke-width="0.85" fill="none" opacity="0.9"/>
<path d="M490.7 259.6H497.9M494.3 256V263.2" stroke="#C77CFF" stroke-width="0.85" fill="none" opacity="0.9"/>
<path d="M502.8 262H510M506.4 258.4V265.6" stroke="#C77CFF" stroke-width="0.85" fill="none" opacity="0.9"/>
<path d="M514.9 254.4H522.1M518.5 250.8V258" stroke="#C77CFF" stroke-width="0.85" fill="none" opacity="0.9"/>
<path d="M527 252H534.2M530.6 248.4V255.6" stroke="#C77CFF" stroke-width="0.85" fill="none" opacity="0.9"/>
<path d="M539 251H546.2M542.6 247.4V254.6" stroke="#C77CFF" stroke-width="0.85" fill="none" opacity="0.9"/>
<path d="M551.1 252H558.3M554.7 248.4V255.6" stroke="#C77CFF" stroke-width="0.85" fill="none" opacity="0.9"/>
<path d="M563.2 210.4H570.4M566.8 206.8V214" stroke="#C77CFF" stroke-width="0.85" fill="none" opacity="0.9"/>
<path d="M575.3 206.6H582.5M578.9 203V210.2" stroke="#C77CFF" stroke-width="0.85" fill="none" opacity="0.9"/>
<path d="M587.4 197H594.6M591 193.4V200.6" stroke="#C77CFF" stroke-width="0.85" fill="none" opacity="0.9"/>
<path d="M599.4 185.4H606.6M603 181.8V189" stroke="#C77CFF" stroke-width="0.85" fill="none" opacity="0.9"/>
<path d="M611.5 156.4H618.7M615.1 152.8V160" stroke="#C77CFF" stroke-width="0.85" fill="none" opacity="0.9"/>
<path d="M623.6 203.2H630.8M627.2 199.6V206.8" stroke="#C77CFF" stroke-width="0.85" fill="none" opacity="0.9"/>
<path d="M635.7 251.6H642.9M639.3 248V255.2" stroke="#C77CFF" stroke-width="0.85" fill="none" opacity="0.9"/>
<path d="M647.8 257.4H655M651.4 253.8V261" stroke="#C77CFF" stroke-width="0.85" fill="none" opacity="0.9"/>
<path d="M659.8 250H667M663.4 246.4V253.6" stroke="#C77CFF" stroke-width="0.85" fill="none" opacity="0.9"/>
<path d="M671.9 165.6H679.1M675.5 162V169.2" stroke="#C77CFF" stroke-width="0.85" fill="none" opacity="0.9"/>
<path d="M29.5 328.4V506.1M28.9 505.5H333.6" stroke="#5e5e5e" stroke-width="1.1" fill="none"/>
<path d="M27.2 501.6H29.5" stroke="#5e5e5e" stroke-width="1.2"/>
<text transform="translate(25.9 504.6) scale(0.94 1)" text-anchor="end" class="tky">0.0</text>
<path d="M27.2 463H29.5" stroke="#5e5e5e" stroke-width="1.2"/>
<text transform="translate(25.9 466) scale(0.94 1)" text-anchor="end" class="tky">0.5</text>
<path d="M27.2 424.4H29.5" stroke="#5e5e5e" stroke-width="1.2"/>
<text transform="translate(25.9 427.4) scale(0.94 1)" text-anchor="end" class="tky">1.0</text>
<path d="M27.2 385.8H29.5" stroke="#5e5e5e" stroke-width="1.2"/>
<text transform="translate(25.9 388.8) scale(0.94 1)" text-anchor="end" class="tky">1.5</text>
<path d="M27.2 347.2H29.5" stroke="#5e5e5e" stroke-width="1.2"/>
<text transform="translate(25.9 350.2) scale(0.94 1)" text-anchor="end" class="tky">2.0</text>
<path d="M36.5 505.5V507.9" stroke="#5e5e5e" stroke-width="1.2"/>
<text transform="translate(39.4 513.6) rotate(-90)" text-anchor="middle" class="tk">1</text>
<path d="M48.6 505.5V507.9" stroke="#5e5e5e" stroke-width="1.2"/>
<text transform="translate(51.5 513.6) rotate(-90)" text-anchor="middle" class="tk">2</text>
<path d="M60.7 505.5V507.9" stroke="#5e5e5e" stroke-width="1.2"/>
<text transform="translate(63.6 513.6) rotate(-90)" text-anchor="middle" class="tk">3</text>
<path d="M72.7 505.5V507.9" stroke="#5e5e5e" stroke-width="1.2"/>
<text transform="translate(75.6 513.6) rotate(-90)" text-anchor="middle" class="tk">4</text>
<path d="M84.8 505.5V507.9" stroke="#5e5e5e" stroke-width="1.2"/>
<text transform="translate(87.7 513.6) rotate(-90)" text-anchor="middle" class="tk">5</text>
<path d="M96.9 505.5V507.9" stroke="#5e5e5e" stroke-width="1.2"/>
<text transform="translate(99.8 513.6) rotate(-90)" text-anchor="middle" class="tk">6</text>
<path d="M109 505.5V507.9" stroke="#5e5e5e" stroke-width="1.2"/>
<text transform="translate(111.9 513.6) rotate(-90)" text-anchor="middle" class="tk">7</text>
<path d="M121.1 505.5V507.9" stroke="#5e5e5e" stroke-width="1.2"/>
<text transform="translate(124 513.6) rotate(-90)" text-anchor="middle" class="tk">8</text>
<path d="M133.2 505.5V507.9" stroke="#5e5e5e" stroke-width="1.2"/>
<text transform="translate(136.1 513.6) rotate(-90)" text-anchor="middle" class="tk">9</text>
<path d="M145.2 505.5V507.9" stroke="#5e5e5e" stroke-width="1.2"/>
<text transform="translate(148.1 513.6) rotate(-90)" text-anchor="middle" class="tk">10</text>
<path d="M157.3 505.5V507.9" stroke="#5e5e5e" stroke-width="1.2"/>
<text transform="translate(160.2 513.6) rotate(-90)" text-anchor="middle" class="tk">11</text>
<path d="M169.4 505.5V507.9" stroke="#5e5e5e" stroke-width="1.2"/>
<text transform="translate(172.3 513.6) rotate(-90)" text-anchor="middle" class="tk">12</text>
<path d="M181.5 505.5V507.9" stroke="#5e5e5e" stroke-width="1.2"/>
<text transform="translate(184.4 513.6) rotate(-90)" text-anchor="middle" class="tk">13</text>
<path d="M193.6 505.5V507.9" stroke="#5e5e5e" stroke-width="1.2"/>
<text transform="translate(196.5 513.6) rotate(-90)" text-anchor="middle" class="tk">14</text>
<path d="M205.7 505.5V507.9" stroke="#5e5e5e" stroke-width="1.2"/>
<text transform="translate(208.6 513.6) rotate(-90)" text-anchor="middle" class="tk">15</text>
<path d="M217.7 505.5V507.9" stroke="#5e5e5e" stroke-width="1.2"/>
<text transform="translate(220.6 513.6) rotate(-90)" text-anchor="middle" class="tk">16</text>
<path d="M229.8 505.5V507.9" stroke="#5e5e5e" stroke-width="1.2"/>
<text transform="translate(232.7 513.6) rotate(-90)" text-anchor="middle" class="tk">17</text>
<path d="M241.9 505.5V507.9" stroke="#5e5e5e" stroke-width="1.2"/>
<text transform="translate(244.8 513.6) rotate(-90)" text-anchor="middle" class="tk">18</text>
<path d="M254 505.5V507.9" stroke="#5e5e5e" stroke-width="1.2"/>
<text transform="translate(256.9 513.6) rotate(-90)" text-anchor="middle" class="tk">19</text>
<path d="M266.1 505.5V507.9" stroke="#5e5e5e" stroke-width="1.2"/>
<text transform="translate(269 513.6) rotate(-90)" text-anchor="middle" class="tk">20</text>
<path d="M278.2 505.5V507.9" stroke="#5e5e5e" stroke-width="1.2"/>
<text transform="translate(281.1 513.6) rotate(-90)" text-anchor="middle" class="tk">21</text>
<path d="M290.2 505.5V507.9" stroke="#5e5e5e" stroke-width="1.2"/>
<text transform="translate(293.1 513.6) rotate(-90)" text-anchor="middle" class="tk">22</text>
<path d="M302.3 505.5V507.9" stroke="#5e5e5e" stroke-width="1.2"/>
<text transform="translate(305.2 513.6) rotate(-90)" text-anchor="middle" class="tk">23</text>
<path d="M314.4 505.5V507.9" stroke="#5e5e5e" stroke-width="1.2"/>
<text transform="translate(317.3 513.6) rotate(-90)" text-anchor="middle" class="tk">24</text>
<path d="M326.5 505.5V507.9" stroke="#5e5e5e" stroke-width="1.2"/>
<text transform="translate(329.4 513.6) rotate(-90)" text-anchor="middle" class="tk">25</text>
<text transform="translate(10.4 416.9) rotate(-90)" text-anchor="middle" class="at">Entropy</text>
<text x="181.2" y="527.3" text-anchor="middle" class="at" textLength="49.2" lengthAdjust="spacingAndGlyphs">SampleNum</text>
<polyline points="36.5,476.8 48.6,480.6 60.7,486 72.7,480.4 84.8,486.8 96.9,477.2 109,480.8 121.1,488.2 133.2,482.8 145.2,475.4 157.3,466.8 169.4,471.4 181.5,476 193.6,473.6 205.7,474 217.7,481.2 229.8,468.4 241.9,468.6 254,477 266.1,480.4 278.2,477.2 290.2,480.8 302.3,479.6 314.4,482 326.5,485.6" fill="none" stroke="#F8766D" stroke-width="1.5" stroke-linejoin="round"/>
<polyline points="36.5,464.6 48.6,462 60.7,469.6 72.7,481 84.8,481.8 96.9,480.6 109,484.4 121.1,482.4 133.2,481 145.2,487.4 157.3,497 169.4,478 181.5,479.8 193.6,479.2 205.7,478.2 217.7,489.6 229.8,486.6 241.9,480.8 254,485.6 266.1,467.6 278.2,465 290.2,469.6 302.3,476 314.4,481 326.5,487.4" fill="none" stroke="#7CAE00" stroke-width="1.5" stroke-linejoin="round"/>
<polyline points="36.5,452.2 48.6,452.2 60.7,454 72.7,436.4 84.8,419.8 96.9,395.6 109,441.4 121.1,450.2 133.2,446.2 145.2,426.8 157.3,432 169.4,420.8 181.5,406.6 193.6,434 205.7,475.2 217.7,485.6 229.8,480.6 241.9,483.6 254,485 266.1,464 278.2,465.2 290.2,472.4 302.3,472 314.4,463.2 326.5,471.2" fill="none" stroke="#00BFC4" stroke-width="1.5" stroke-linejoin="round"/>
<polyline points="36.5,352.6 48.6,337 60.7,414.4 72.7,460.4 84.8,453.6 96.9,441 109,453.6 121.1,471.6 133.2,478 145.2,480.8 157.3,487 169.4,471 181.5,492 193.6,475 205.7,474 217.7,430 229.8,443 241.9,454 254,443.6 266.1,417.4 278.2,420.2 290.2,477 302.3,471 314.4,454.4 326.5,378.4" fill="none" stroke="#C77CFF" stroke-width="1.5" stroke-linejoin="round"/>
<circle cx="36.5" cy="476.8" r="2.3" fill="#F8766D"/>
<circle cx="48.6" cy="480.6" r="2.3" fill="#F8766D"/>
<circle cx="60.7" cy="486" r="2.3" fill="#F8766D"/>
<circle cx="72.7" cy="480.4" r="2.3" fill="#F8766D"/>
<circle cx="84.8" cy="486.8" r="2.3" fill="#F8766D"/>
<circle cx="96.9" cy="477.2" r="2.3" fill="#F8766D"/>
<circle cx="109" cy="480.8" r="2.3" fill="#F8766D"/>
<circle cx="121.1" cy="488.2" r="2.3" fill="#F8766D"/>
<circle cx="133.2" cy="482.8" r="2.3" fill="#F8766D"/>
<circle cx="145.2" cy="475.4" r="2.3" fill="#F8766D"/>
<circle cx="157.3" cy="466.8" r="2.3" fill="#F8766D"/>
<circle cx="169.4" cy="471.4" r="2.3" fill="#F8766D"/>
<circle cx="181.5" cy="476" r="2.3" fill="#F8766D"/>
<circle cx="193.6" cy="473.6" r="2.3" fill="#F8766D"/>
<circle cx="205.7" cy="474" r="2.3" fill="#F8766D"/>
<circle cx="217.7" cy="481.2" r="2.3" fill="#F8766D"/>
<circle cx="229.8" cy="468.4" r="2.3" fill="#F8766D"/>
<circle cx="241.9" cy="468.6" r="2.3" fill="#F8766D"/>
<circle cx="254" cy="477" r="2.3" fill="#F8766D"/>
<circle cx="266.1" cy="480.4" r="2.3" fill="#F8766D"/>
<circle cx="278.2" cy="477.2" r="2.3" fill="#F8766D"/>
<circle cx="290.2" cy="480.8" r="2.3" fill="#F8766D"/>
<circle cx="302.3" cy="479.6" r="2.3" fill="#F8766D"/>
<circle cx="314.4" cy="482" r="2.3" fill="#F8766D"/>
<circle cx="326.5" cy="485.6" r="2.3" fill="#F8766D"/>
<path d="M36.5 461.5L39.5 466.7L33.5 466.7Z" fill="#7CAE00"/>
<path d="M48.6 458.9L51.6 464.1L45.6 464.1Z" fill="#7CAE00"/>
<path d="M60.7 466.5L63.7 471.7L57.7 471.7Z" fill="#7CAE00"/>
<path d="M72.7 477.9L75.7 483.1L69.7 483.1Z" fill="#7CAE00"/>
<path d="M84.8 478.7L87.8 483.9L81.8 483.9Z" fill="#7CAE00"/>
<path d="M96.9 477.5L99.9 482.7L93.9 482.7Z" fill="#7CAE00"/>
<path d="M109 481.3L112 486.5L106 486.5Z" fill="#7CAE00"/>
<path d="M121.1 479.3L124.1 484.5L118.1 484.5Z" fill="#7CAE00"/>
<path d="M133.2 477.9L136.2 483.1L130.2 483.1Z" fill="#7CAE00"/>
<path d="M145.2 484.3L148.2 489.5L142.2 489.5Z" fill="#7CAE00"/>
<path d="M157.3 493.9L160.3 499.1L154.3 499.1Z" fill="#7CAE00"/>
<path d="M169.4 474.9L172.4 480.1L166.4 480.1Z" fill="#7CAE00"/>
<path d="M181.5 476.7L184.5 481.9L178.5 481.9Z" fill="#7CAE00"/>
<path d="M193.6 476.1L196.6 481.3L190.6 481.3Z" fill="#7CAE00"/>
<path d="M205.7 475.1L208.7 480.3L202.7 480.3Z" fill="#7CAE00"/>
<path d="M217.7 486.5L220.7 491.7L214.7 491.7Z" fill="#7CAE00"/>
<path d="M229.8 483.5L232.8 488.7L226.8 488.7Z" fill="#7CAE00"/>
<path d="M241.9 477.7L244.9 482.9L238.9 482.9Z" fill="#7CAE00"/>
<path d="M254 482.5L257 487.7L251 487.7Z" fill="#7CAE00"/>
<path d="M266.1 464.5L269.1 469.7L263.1 469.7Z" fill="#7CAE00"/>
<path d="M278.2 461.9L281.2 467.1L275.2 467.1Z" fill="#7CAE00"/>
<path d="M290.2 466.5L293.2 471.7L287.2 471.7Z" fill="#7CAE00"/>
<path d="M302.3 472.9L305.3 478.1L299.3 478.1Z" fill="#7CAE00"/>
<path d="M314.4 477.9L317.4 483.1L311.4 483.1Z" fill="#7CAE00"/>
<path d="M326.5 484.3L329.5 489.5L323.5 489.5Z" fill="#7CAE00"/>
<rect x="34" y="449.8" width="4.9" height="4.9" fill="#00BFC4"/>
<rect x="46.1" y="449.8" width="4.9" height="4.9" fill="#00BFC4"/>
<rect x="58.2" y="451.6" width="4.9" height="4.9" fill="#00BFC4"/>
<rect x="70.3" y="434" width="4.9" height="4.9" fill="#00BFC4"/>
<rect x="82.4" y="417.4" width="4.9" height="4.9" fill="#00BFC4"/>
<rect x="94.5" y="393.2" width="4.9" height="4.9" fill="#00BFC4"/>
<rect x="106.5" y="439" width="4.9" height="4.9" fill="#00BFC4"/>
<rect x="118.6" y="447.8" width="4.9" height="4.9" fill="#00BFC4"/>
<rect x="130.7" y="443.8" width="4.9" height="4.9" fill="#00BFC4"/>
<rect x="142.8" y="424.4" width="4.9" height="4.9" fill="#00BFC4"/>
<rect x="154.9" y="429.6" width="4.9" height="4.9" fill="#00BFC4"/>
<rect x="167" y="418.4" width="4.9" height="4.9" fill="#00BFC4"/>
<rect x="179" y="404.2" width="4.9" height="4.9" fill="#00BFC4"/>
<rect x="191.1" y="431.6" width="4.9" height="4.9" fill="#00BFC4"/>
<rect x="203.2" y="472.8" width="4.9" height="4.9" fill="#00BFC4"/>
<rect x="215.3" y="483.2" width="4.9" height="4.9" fill="#00BFC4"/>
<rect x="227.4" y="478.2" width="4.9" height="4.9" fill="#00BFC4"/>
<rect x="239.5" y="481.2" width="4.9" height="4.9" fill="#00BFC4"/>
<rect x="251.5" y="482.6" width="4.9" height="4.9" fill="#00BFC4"/>
<rect x="263.6" y="461.6" width="4.9" height="4.9" fill="#00BFC4"/>
<rect x="275.7" y="462.8" width="4.9" height="4.9" fill="#00BFC4"/>
<rect x="287.8" y="470" width="4.9" height="4.9" fill="#00BFC4"/>
<rect x="299.9" y="469.6" width="4.9" height="4.9" fill="#00BFC4"/>
<rect x="312" y="460.8" width="4.9" height="4.9" fill="#00BFC4"/>
<rect x="324" y="468.8" width="4.9" height="4.9" fill="#00BFC4"/>
<path d="M32.9 352.6H40.1M36.5 349V356.2" stroke="#C77CFF" stroke-width="0.85" fill="none" opacity="0.9"/>
<path d="M45 337H52.2M48.6 333.4V340.6" stroke="#C77CFF" stroke-width="0.85" fill="none" opacity="0.9"/>
<path d="M57.1 414.4H64.3M60.7 410.8V418" stroke="#C77CFF" stroke-width="0.85" fill="none" opacity="0.9"/>
<path d="M69.1 460.4H76.3M72.7 456.8V464" stroke="#C77CFF" stroke-width="0.85" fill="none" opacity="0.9"/>
<path d="M81.2 453.6H88.4M84.8 450V457.2" stroke="#C77CFF" stroke-width="0.85" fill="none" opacity="0.9"/>
<path d="M93.3 441H100.5M96.9 437.4V444.6" stroke="#C77CFF" stroke-width="0.85" fill="none" opacity="0.9"/>
<path d="M105.4 453.6H112.6M109 450V457.2" stroke="#C77CFF" stroke-width="0.85" fill="none" opacity="0.9"/>
<path d="M117.5 471.6H124.7M121.1 468V475.2" stroke="#C77CFF" stroke-width="0.85" fill="none" opacity="0.9"/>
<path d="M129.6 478H136.8M133.2 474.4V481.6" stroke="#C77CFF" stroke-width="0.85" fill="none" opacity="0.9"/>
<path d="M141.6 480.8H148.8M145.2 477.2V484.4" stroke="#C77CFF" stroke-width="0.85" fill="none" opacity="0.9"/>
<path d="M153.7 487H160.9M157.3 483.4V490.6" stroke="#C77CFF" stroke-width="0.85" fill="none" opacity="0.9"/>
<path d="M165.8 471H173M169.4 467.4V474.6" stroke="#C77CFF" stroke-width="0.85" fill="none" opacity="0.9"/>
<path d="M177.9 492H185.1M181.5 488.4V495.6" stroke="#C77CFF" stroke-width="0.85" fill="none" opacity="0.9"/>
<path d="M190 475H197.2M193.6 471.4V478.6" stroke="#C77CFF" stroke-width="0.85" fill="none" opacity="0.9"/>
<path d="M202.1 474H209.3M205.7 470.4V477.6" stroke="#C77CFF" stroke-width="0.85" fill="none" opacity="0.9"/>
<path d="M214.1 430H221.3M217.7 426.4V433.6" stroke="#C77CFF" stroke-width="0.85" fill="none" opacity="0.9"/>
<path d="M226.2 443H233.4M229.8 439.4V446.6" stroke="#C77CFF" stroke-width="0.85" fill="none" opacity="0.9"/>
<path d="M238.3 454H245.5M241.9 450.4V457.6" stroke="#C77CFF" stroke-width="0.85" fill="none" opacity="0.9"/>
<path d="M250.4 443.6H257.6M254 440V447.2" stroke="#C77CFF" stroke-width="0.85" fill="none" opacity="0.9"/>
<path d="M262.5 417.4H269.7M266.1 413.8V421" stroke="#C77CFF" stroke-width="0.85" fill="none" opacity="0.9"/>
<path d="M274.6 420.2H281.8M278.2 416.6V423.8" stroke="#C77CFF" stroke-width="0.85" fill="none" opacity="0.9"/>
<path d="M286.6 477H293.8M290.2 473.4V480.6" stroke="#C77CFF" stroke-width="0.85" fill="none" opacity="0.9"/>
<path d="M298.7 471H305.9M302.3 467.4V474.6" stroke="#C77CFF" stroke-width="0.85" fill="none" opacity="0.9"/>
<path d="M310.8 454.4H318M314.4 450.8V458" stroke="#C77CFF" stroke-width="0.85" fill="none" opacity="0.9"/>
<path d="M322.9 378.4H330.1M326.5 374.8V382" stroke="#C77CFF" stroke-width="0.85" fill="none" opacity="0.9"/>
<path d="M378.5 328.4V505.9M377.9 505.3H683" stroke="#5e5e5e" stroke-width="1.1" fill="none"/>
<path d="M376.2 481H378.5" stroke="#5e5e5e" stroke-width="1.2"/>
<text transform="translate(374.9 484) scale(0.94 1)" text-anchor="end" class="tky">0.2</text>
<path d="M376.2 435.2H378.5" stroke="#5e5e5e" stroke-width="1.2"/>
<text transform="translate(374.9 438.2) scale(0.94 1)" text-anchor="end" class="tky">0.4</text>
<path d="M376.2 389.4H378.5" stroke="#5e5e5e" stroke-width="1.2"/>
<text transform="translate(374.9 392.4) scale(0.94 1)" text-anchor="end" class="tky">0.6</text>
<path d="M376.2 343.6H378.5" stroke="#5e5e5e" stroke-width="1.2"/>
<text transform="translate(374.9 346.6) scale(0.94 1)" text-anchor="end" class="tky">0.8</text>
<path d="M385.6 505.3V507.7" stroke="#5e5e5e" stroke-width="1.2"/>
<text transform="translate(388.5 513.2) rotate(-90)" text-anchor="middle" class="tk">1</text>
<path d="M397.7 505.3V507.7" stroke="#5e5e5e" stroke-width="1.2"/>
<text transform="translate(400.6 513.2) rotate(-90)" text-anchor="middle" class="tk">2</text>
<path d="M409.8 505.3V507.7" stroke="#5e5e5e" stroke-width="1.2"/>
<text transform="translate(412.7 513.2) rotate(-90)" text-anchor="middle" class="tk">3</text>
<path d="M421.8 505.3V507.7" stroke="#5e5e5e" stroke-width="1.2"/>
<text transform="translate(424.7 513.2) rotate(-90)" text-anchor="middle" class="tk">4</text>
<path d="M433.9 505.3V507.7" stroke="#5e5e5e" stroke-width="1.2"/>
<text transform="translate(436.8 513.2) rotate(-90)" text-anchor="middle" class="tk">5</text>
<path d="M446 505.3V507.7" stroke="#5e5e5e" stroke-width="1.2"/>
<text transform="translate(448.9 513.2) rotate(-90)" text-anchor="middle" class="tk">6</text>
<path d="M458.1 505.3V507.7" stroke="#5e5e5e" stroke-width="1.2"/>
<text transform="translate(461 513.2) rotate(-90)" text-anchor="middle" class="tk">7</text>
<path d="M470.2 505.3V507.7" stroke="#5e5e5e" stroke-width="1.2"/>
<text transform="translate(473.1 513.2) rotate(-90)" text-anchor="middle" class="tk">8</text>
<path d="M482.2 505.3V507.7" stroke="#5e5e5e" stroke-width="1.2"/>
<text transform="translate(485.1 513.2) rotate(-90)" text-anchor="middle" class="tk">9</text>
<path d="M494.3 505.3V507.7" stroke="#5e5e5e" stroke-width="1.2"/>
<text transform="translate(497.2 513.2) rotate(-90)" text-anchor="middle" class="tk">10</text>
<path d="M506.4 505.3V507.7" stroke="#5e5e5e" stroke-width="1.2"/>
<text transform="translate(509.3 513.2) rotate(-90)" text-anchor="middle" class="tk">11</text>
<path d="M518.5 505.3V507.7" stroke="#5e5e5e" stroke-width="1.2"/>
<text transform="translate(521.4 513.2) rotate(-90)" text-anchor="middle" class="tk">12</text>
<path d="M530.6 505.3V507.7" stroke="#5e5e5e" stroke-width="1.2"/>
<text transform="translate(533.5 513.2) rotate(-90)" text-anchor="middle" class="tk">13</text>
<path d="M542.6 505.3V507.7" stroke="#5e5e5e" stroke-width="1.2"/>
<text transform="translate(545.5 513.2) rotate(-90)" text-anchor="middle" class="tk">14</text>
<path d="M554.7 505.3V507.7" stroke="#5e5e5e" stroke-width="1.2"/>
<text transform="translate(557.6 513.2) rotate(-90)" text-anchor="middle" class="tk">15</text>
<path d="M566.8 505.3V507.7" stroke="#5e5e5e" stroke-width="1.2"/>
<text transform="translate(569.7 513.2) rotate(-90)" text-anchor="middle" class="tk">16</text>
<path d="M578.9 505.3V507.7" stroke="#5e5e5e" stroke-width="1.2"/>
<text transform="translate(581.8 513.2) rotate(-90)" text-anchor="middle" class="tk">17</text>
<path d="M591 505.3V507.7" stroke="#5e5e5e" stroke-width="1.2"/>
<text transform="translate(593.9 513.2) rotate(-90)" text-anchor="middle" class="tk">18</text>
<path d="M603 505.3V507.7" stroke="#5e5e5e" stroke-width="1.2"/>
<text transform="translate(605.9 513.2) rotate(-90)" text-anchor="middle" class="tk">19</text>
<path d="M615.1 505.3V507.7" stroke="#5e5e5e" stroke-width="1.2"/>
<text transform="translate(618 513.2) rotate(-90)" text-anchor="middle" class="tk">20</text>
<path d="M627.2 505.3V507.7" stroke="#5e5e5e" stroke-width="1.2"/>
<text transform="translate(630.1 513.2) rotate(-90)" text-anchor="middle" class="tk">21</text>
<path d="M639.3 505.3V507.7" stroke="#5e5e5e" stroke-width="1.2"/>
<text transform="translate(642.2 513.2) rotate(-90)" text-anchor="middle" class="tk">22</text>
<path d="M651.4 505.3V507.7" stroke="#5e5e5e" stroke-width="1.2"/>
<text transform="translate(654.3 513.2) rotate(-90)" text-anchor="middle" class="tk">23</text>
<path d="M663.4 505.3V507.7" stroke="#5e5e5e" stroke-width="1.2"/>
<text transform="translate(666.3 513.2) rotate(-90)" text-anchor="middle" class="tk">24</text>
<path d="M675.5 505.3V507.7" stroke="#5e5e5e" stroke-width="1.2"/>
<text transform="translate(678.4 513.2) rotate(-90)" text-anchor="middle" class="tk">25</text>
<text transform="translate(359.7 416.9) rotate(-90)" text-anchor="middle" class="at">Laminarity</text>
<text x="530.1" y="527.3" text-anchor="middle" class="at" textLength="49.2" lengthAdjust="spacingAndGlyphs">SampleNum</text>
<polyline points="385.6,462.2 397.7,454 409.8,467.6 421.8,476 433.9,480.4 446,477.6 458.1,479.4 470.2,486.4 482.2,485.4 494.3,483 506.4,468.4 518.5,478.6 530.6,484.4 542.6,481.2 554.7,465.6 566.8,474.4 578.9,453.6 591,450 603,453.6 615.1,452.6 627.2,459.6 639.3,474 651.4,483 663.4,482 675.5,482" fill="none" stroke="#F8766D" stroke-width="1.5" stroke-linejoin="round"/>
<polyline points="385.6,475.4 397.7,472 409.8,480 421.8,476.8 433.9,466 446,459.6 458.1,460.4 470.2,486.6 482.2,475.6 494.3,461 506.4,463.6 518.5,465 530.6,475 542.6,474.6 554.7,474.6 566.8,474 578.9,470 591,454.4 603,471.4 615.1,476.6 627.2,471.1 639.3,480.4 651.4,485.6 663.4,484 675.5,483" fill="none" stroke="#7CAE00" stroke-width="1.5" stroke-linejoin="round"/>
<polyline points="385.6,436.6 397.7,443.2 409.8,442.6 421.8,420.9 433.9,406.4 446,397.4 458.1,445.3 470.2,447.2 482.2,398.6 494.3,391.2 506.4,400.5 518.5,391.2 530.6,386.8 542.6,441.4 554.7,480 566.8,492.2 578.9,479.2 591,479.6 603,480.2 615.1,469.8 627.2,472.4 639.3,492.6 651.4,485.6 663.4,486 675.5,480.4" fill="none" stroke="#00BFC4" stroke-width="1.5" stroke-linejoin="round"/>
<polyline points="385.6,337 397.7,350.4 409.8,444 421.8,473 433.9,465 446,445.6 458.1,456.6 470.2,486.4 482.2,493.4 494.3,496.4 506.4,497.4 518.5,486 530.6,492 542.6,483.6 554.7,482 566.8,442.6 578.9,443.6 591,442.4 603,430 615.1,405.8 627.2,435.6 639.3,471.4 651.4,490 663.4,467.4 675.5,384.4" fill="none" stroke="#C77CFF" stroke-width="1.5" stroke-linejoin="round"/>
<circle cx="385.6" cy="462.2" r="2.3" fill="#F8766D"/>
<circle cx="397.7" cy="454" r="2.3" fill="#F8766D"/>
<circle cx="409.8" cy="467.6" r="2.3" fill="#F8766D"/>
<circle cx="421.8" cy="476" r="2.3" fill="#F8766D"/>
<circle cx="433.9" cy="480.4" r="2.3" fill="#F8766D"/>
<circle cx="446" cy="477.6" r="2.3" fill="#F8766D"/>
<circle cx="458.1" cy="479.4" r="2.3" fill="#F8766D"/>
<circle cx="470.2" cy="486.4" r="2.3" fill="#F8766D"/>
<circle cx="482.2" cy="485.4" r="2.3" fill="#F8766D"/>
<circle cx="494.3" cy="483" r="2.3" fill="#F8766D"/>
<circle cx="506.4" cy="468.4" r="2.3" fill="#F8766D"/>
<circle cx="518.5" cy="478.6" r="2.3" fill="#F8766D"/>
<circle cx="530.6" cy="484.4" r="2.3" fill="#F8766D"/>
<circle cx="542.6" cy="481.2" r="2.3" fill="#F8766D"/>
<circle cx="554.7" cy="465.6" r="2.3" fill="#F8766D"/>
<circle cx="566.8" cy="474.4" r="2.3" fill="#F8766D"/>
<circle cx="578.9" cy="453.6" r="2.3" fill="#F8766D"/>
<circle cx="591" cy="450" r="2.3" fill="#F8766D"/>
<circle cx="603" cy="453.6" r="2.3" fill="#F8766D"/>
<circle cx="615.1" cy="452.6" r="2.3" fill="#F8766D"/>
<circle cx="627.2" cy="459.6" r="2.3" fill="#F8766D"/>
<circle cx="639.3" cy="474" r="2.3" fill="#F8766D"/>
<circle cx="651.4" cy="483" r="2.3" fill="#F8766D"/>
<circle cx="663.4" cy="482" r="2.3" fill="#F8766D"/>
<circle cx="675.5" cy="482" r="2.3" fill="#F8766D"/>
<path d="M385.6 472.3L388.6 477.5L382.6 477.5Z" fill="#7CAE00"/>
<path d="M397.7 468.9L400.7 474.1L394.7 474.1Z" fill="#7CAE00"/>
<path d="M409.8 476.9L412.8 482.1L406.8 482.1Z" fill="#7CAE00"/>
<path d="M421.8 473.7L424.8 478.9L418.8 478.9Z" fill="#7CAE00"/>
<path d="M433.9 462.9L436.9 468.1L430.9 468.1Z" fill="#7CAE00"/>
<path d="M446 456.5L449 461.7L443 461.7Z" fill="#7CAE00"/>
<path d="M458.1 457.3L461.1 462.5L455.1 462.5Z" fill="#7CAE00"/>
<path d="M470.2 483.5L473.2 488.7L467.2 488.7Z" fill="#7CAE00"/>
<path d="M482.2 472.5L485.2 477.7L479.2 477.7Z" fill="#7CAE00"/>
<path d="M494.3 457.9L497.3 463.1L491.3 463.1Z" fill="#7CAE00"/>
<path d="M506.4 460.5L509.4 465.7L503.4 465.7Z" fill="#7CAE00"/>
<path d="M518.5 461.9L521.5 467.1L515.5 467.1Z" fill="#7CAE00"/>
<path d="M530.6 471.9L533.6 477.1L527.6 477.1Z" fill="#7CAE00"/>
<path d="M542.6 471.5L545.6 476.7L539.6 476.7Z" fill="#7CAE00"/>
<path d="M554.7 471.5L557.7 476.7L551.7 476.7Z" fill="#7CAE00"/>
<path d="M566.8 470.9L569.8 476.1L563.8 476.1Z" fill="#7CAE00"/>
<path d="M578.9 466.9L581.9 472.1L575.9 472.1Z" fill="#7CAE00"/>
<path d="M591 451.3L594 456.5L588 456.5Z" fill="#7CAE00"/>
<path d="M603 468.3L606 473.5L600 473.5Z" fill="#7CAE00"/>
<path d="M615.1 473.5L618.1 478.7L612.1 478.7Z" fill="#7CAE00"/>
<path d="M627.2 468L630.2 473.2L624.2 473.2Z" fill="#7CAE00"/>
<path d="M639.3 477.3L642.3 482.5L636.3 482.5Z" fill="#7CAE00"/>
<path d="M651.4 482.5L654.4 487.7L648.4 487.7Z" fill="#7CAE00"/>
<path d="M663.4 480.9L666.4 486.1L660.4 486.1Z" fill="#7CAE00"/>
<path d="M675.5 479.9L678.5 485.1L672.5 485.1Z" fill="#7CAE00"/>
<rect x="383.2" y="434.2" width="4.9" height="4.9" fill="#00BFC4"/>
<rect x="395.2" y="440.8" width="4.9" height="4.9" fill="#00BFC4"/>
<rect x="407.3" y="440.2" width="4.9" height="4.9" fill="#00BFC4"/>
<rect x="419.4" y="418.5" width="4.9" height="4.9" fill="#00BFC4"/>
<rect x="431.5" y="404" width="4.9" height="4.9" fill="#00BFC4"/>
<rect x="443.6" y="395" width="4.9" height="4.9" fill="#00BFC4"/>
<rect x="455.6" y="442.9" width="4.9" height="4.9" fill="#00BFC4"/>
<rect x="467.7" y="444.8" width="4.9" height="4.9" fill="#00BFC4"/>
<rect x="479.8" y="396.2" width="4.9" height="4.9" fill="#00BFC4"/>
<rect x="491.9" y="388.8" width="4.9" height="4.9" fill="#00BFC4"/>
<rect x="504" y="398.1" width="4.9" height="4.9" fill="#00BFC4"/>
<rect x="516" y="388.8" width="4.9" height="4.9" fill="#00BFC4"/>
<rect x="528.1" y="384.4" width="4.9" height="4.9" fill="#00BFC4"/>
<rect x="540.2" y="439" width="4.9" height="4.9" fill="#00BFC4"/>
<rect x="552.3" y="477.6" width="4.9" height="4.9" fill="#00BFC4"/>
<rect x="564.3" y="489.8" width="4.9" height="4.9" fill="#00BFC4"/>
<rect x="576.4" y="476.8" width="4.9" height="4.9" fill="#00BFC4"/>
<rect x="588.5" y="477.2" width="4.9" height="4.9" fill="#00BFC4"/>
<rect x="600.6" y="477.8" width="4.9" height="4.9" fill="#00BFC4"/>
<rect x="612.7" y="467.4" width="4.9" height="4.9" fill="#00BFC4"/>
<rect x="624.8" y="470" width="4.9" height="4.9" fill="#00BFC4"/>
<rect x="636.8" y="490.2" width="4.9" height="4.9" fill="#00BFC4"/>
<rect x="648.9" y="483.2" width="4.9" height="4.9" fill="#00BFC4"/>
<rect x="661" y="483.6" width="4.9" height="4.9" fill="#00BFC4"/>
<rect x="673.1" y="478" width="4.9" height="4.9" fill="#00BFC4"/>
<path d="M382 337H389.2M385.6 333.4V340.6" stroke="#C77CFF" stroke-width="0.85" fill="none" opacity="0.9"/>
<path d="M394.1 350.4H401.3M397.7 346.8V354" stroke="#C77CFF" stroke-width="0.85" fill="none" opacity="0.9"/>
<path d="M406.2 444H413.4M409.8 440.4V447.6" stroke="#C77CFF" stroke-width="0.85" fill="none" opacity="0.9"/>
<path d="M418.2 473H425.4M421.8 469.4V476.6" stroke="#C77CFF" stroke-width="0.85" fill="none" opacity="0.9"/>
<path d="M430.3 465H437.5M433.9 461.4V468.6" stroke="#C77CFF" stroke-width="0.85" fill="none" opacity="0.9"/>
<path d="M442.4 445.6H449.6M446 442V449.2" stroke="#C77CFF" stroke-width="0.85" fill="none" opacity="0.9"/>
<path d="M454.5 456.6H461.7M458.1 453V460.2" stroke="#C77CFF" stroke-width="0.85" fill="none" opacity="0.9"/>
<path d="M466.6 486.4H473.8M470.2 482.8V490" stroke="#C77CFF" stroke-width="0.85" fill="none" opacity="0.9"/>
<path d="M478.6 493.4H485.8M482.2 489.8V497" stroke="#C77CFF" stroke-width="0.85" fill="none" opacity="0.9"/>
<path d="M490.7 496.4H497.9M494.3 492.8V500" stroke="#C77CFF" stroke-width="0.85" fill="none" opacity="0.9"/>
<path d="M502.8 497.4H510M506.4 493.8V501" stroke="#C77CFF" stroke-width="0.85" fill="none" opacity="0.9"/>
<path d="M514.9 486H522.1M518.5 482.4V489.6" stroke="#C77CFF" stroke-width="0.85" fill="none" opacity="0.9"/>
<path d="M527 492H534.2M530.6 488.4V495.6" stroke="#C77CFF" stroke-width="0.85" fill="none" opacity="0.9"/>
<path d="M539 483.6H546.2M542.6 480V487.2" stroke="#C77CFF" stroke-width="0.85" fill="none" opacity="0.9"/>
<path d="M551.1 482H558.3M554.7 478.4V485.6" stroke="#C77CFF" stroke-width="0.85" fill="none" opacity="0.9"/>
<path d="M563.2 442.6H570.4M566.8 439V446.2" stroke="#C77CFF" stroke-width="0.85" fill="none" opacity="0.9"/>
<path d="M575.3 443.6H582.5M578.9 440V447.2" stroke="#C77CFF" stroke-width="0.85" fill="none" opacity="0.9"/>
<path d="M587.4 442.4H594.6M591 438.8V446" stroke="#C77CFF" stroke-width="0.85" fill="none" opacity="0.9"/>
<path d="M599.4 430H606.6M603 426.4V433.6" stroke="#C77CFF" stroke-width="0.85" fill="none" opacity="0.9"/>
<path d="M611.5 405.8H618.7M615.1 402.2V409.4" stroke="#C77CFF" stroke-width="0.85" fill="none" opacity="0.9"/>
<path d="M623.6 435.6H630.8M627.2 432V439.2" stroke="#C77CFF" stroke-width="0.85" fill="none" opacity="0.9"/>
<path d="M635.7 471.4H642.9M639.3 467.8V475" stroke="#C77CFF" stroke-width="0.85" fill="none" opacity="0.9"/>
<path d="M647.8 490H655M651.4 486.4V493.6" stroke="#C77CFF" stroke-width="0.85" fill="none" opacity="0.9"/>
<path d="M659.8 467.4H667M663.4 463.8V471" stroke="#C77CFF" stroke-width="0.85" fill="none" opacity="0.9"/>
<path d="M671.9 384.4H679.1M675.5 380.8V388" stroke="#C77CFF" stroke-width="0.85" fill="none" opacity="0.9"/>
<text x="556.4" y="358.2" class="lt">Performance.Event</text>
<path d="M557 368H565.2" stroke="#F8766D" stroke-width="1.5"/>
<circle cx="561.1" cy="368" r="2.3" fill="#F8766D"/>
<text x="570.4" y="370.9" class="ll">Aleatoric</text>
<path d="M557 377.9H565.2" stroke="#7CAE00" stroke-width="1.5"/>
<path d="M561.1 374.8L564.1 380L558.1 380Z" fill="#7CAE00"/>
<text x="570.4" y="380.8" class="ll">Transition</text>
<path d="M557 387.8H565.2" stroke="#00BFC4" stroke-width="1.5"/>
<rect x="558.6" y="385.4" width="4.9" height="4.9" fill="#00BFC4"/>
<text x="570.4" y="390.7" class="ll">Introduction</text>
<path d="M557 397.7H565.2" stroke="#C77CFF" stroke-width="1.5"/>
<path d="M557.5 397.7H564.7M561.1 394.1V401.3" stroke="#C77CFF" stroke-width="0.85" fill="none" opacity="0.9"/>
<text x="570.4" y="400.6" class="ll">Finale</text>
</svg>
</body></html>
